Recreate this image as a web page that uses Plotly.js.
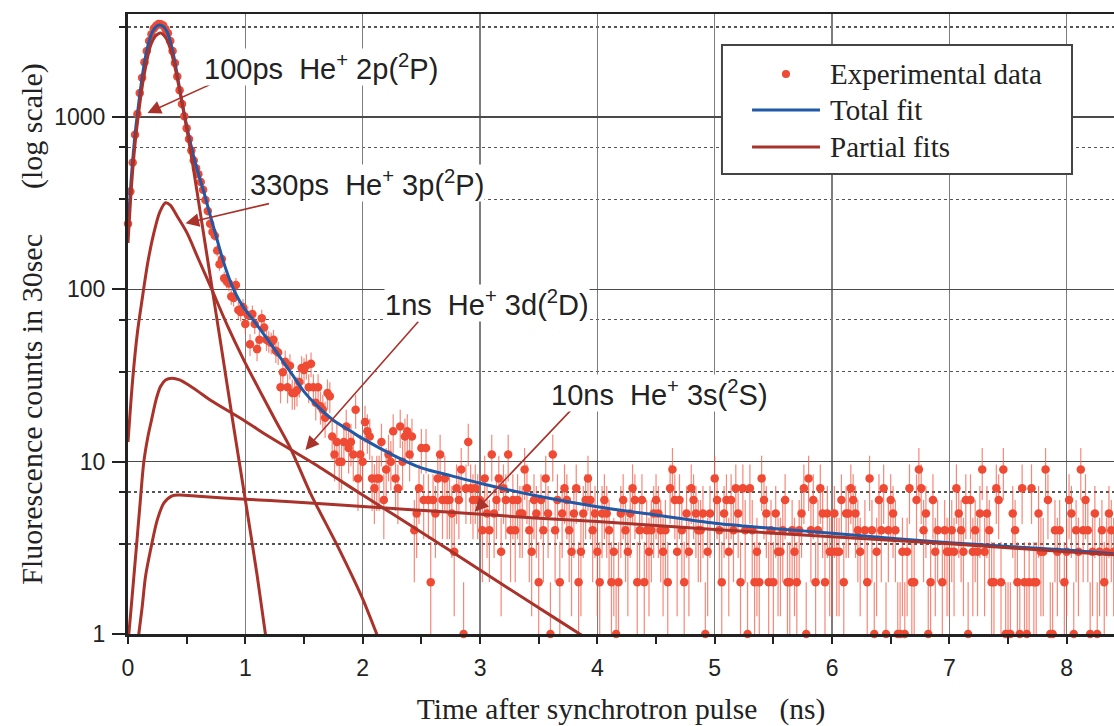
<!DOCTYPE html>
<html><head><meta charset="utf-8">
<script src="https://cdn.plot.ly/plotly-3.0.1.min.js"></script>
<style>html,body{margin:0;padding:0;background:#fff}#chart{width:1114px;height:726px}</style>
</head><body><div id="chart"></div>
<script>
// ---- data: fluorescence counts per 20 ps channel, starting at t = 0 ns ----
const channelStart = 0;      // ns
const channelWidth = 0.02;   // ns
const counts = [
 240, 370, 545, 790, 1040, 1380, 1690, 2080, 2420, 2760,
 3020, 3260, 3390, 3470, 3450, 3400, 3230, 3060, 2760, 2420,
 2060, 1720, 1430, 1190, 1010, 860, 745, 640, 560, 505,
 465, 420, 378, 330, 285, 240, 215, 205, 168, 140,
 150, 116, 112, 108, 91, 89, 106, 76, 74, 79,
 63, 71, 48, 72, 63, 45, 51, 68, 60, 51,
 50, 49, 51, 44, 43, 27, 33, 38, 27, 36,
 25, 25, 26, 29, 35, 34, 36, 27, 37, 27,
 22, 27, 21, 20, 18, 25, 24, 14, 11, 13,
 10, 10, 13, 16, 12, 13, 11, 20, 8, 11,
 10, 17, 15, 14, 8, 7, 8, 8, 13, 6,
 9, 11, 10, 15, 8, 7, 16, 10, 14, 15,
 11, 14, 4, 5, 7, 12, 6, 12, 6, 2,
 6, 5, 8, 11, 6, 8, 6, 6, 5, 3,
 7, 6, 9, 1, 7, 13, 7, 6, 7, 6,
 6, 4, 8, 5, 4, 11, 5, 6, 8, 3,
 7, 6, 11, 4, 6, 4, 6, 5, 5, 9,
 7, 4, 3, 6, 5, 2, 6, 4, 8, 5,
 1, 11, 4, 6, 2, 5, 7, 6, 4, 3,
 5, 7, 2, 3, 5, 6, 8, 6, 4, 5,
 3, 2, 5, 6, 5, 4, 2, 3, 1, 2,
 5, 6, 4, 3, 5, 7, 6, 2, 4, 6,
 2, 4, 3, 4, 5, 6, 5, 4, 3, 4,
 2, 7, 9, 6, 3, 6, 4, 2, 5, 3,
 7, 6, 5, 4, 4, 5, 1, 3, 5, 0,
 8, 6, 4, 2, 5, 6, 3, 6, 4, 7,
 5, 2, 7, 4, 1, 7, 4, 2, 3, 2,
 8, 6, 5, 2, 4, 2, 5, 3, 3, 4,
 6, 2, 2, 4, 3, 2, 4, 5, 7, 1,
 8, 4, 6, 2, 4, 7, 5, 2, 5, 3,
 3, 5, 3, 3, 6, 2, 5, 5, 7, 6,
 5, 4, 3, 0, 4, 2, 8, 4, 1, 3,
 6, 4, 7, 1, 4, 6, 5, 4, 1, 1,
 3, 1, 3, 7, 2, 2, 6, 9, 7, 4,
 5, 1, 2, 6, 3, 4, 0, 2, 4, 3,
 3, 4, 3, 7, 5, 4, 3, 6, 1, 6,
 3, 4, 3, 5, 9, 3, 5, 4, 2, 2,
 7, 6, 2, 9, 1, 1, 1, 5, 4, 2,
 1, 7, 2, 1, 2, 7, 2, 2, 5, 3,
 3, 9, 6, 1, 1, 4, 3, 4, 0, 2,
 3, 6, 5, 1, 4, 3, 9, 4, 6, 4,
 1, 3, 5, 1, 3, 4, 2, 3, 5, 4, 3
];

// ---- fitted curves ----
const totalFitX = [0.00,0.03,0.06,0.09,0.12,0.15,0.18,0.21,0.24,0.27,0.30,0.33,0.36,0.39,0.42,0.45,0.48,0.52,0.56,0.60,0.65,0.70,0.75,0.80,0.85,0.90,0.95,1.00,1.07,1.20,1.30,1.40,1.50,1.60,1.75,1.90,2.00,2.25,2.50,2.75,3.00,3.50,4.00,4.50,5.00,5.50,6.00,6.50,7.00,7.50,8.00,8.42];
const totalFitY = [230,460,790,1180,1690,2250,2760,3140,3350,3420,3360,3150,2760,2260,1750,1340,1040,770,590,470,360,270,205,155,122,100,86,76,66,50,40,32,25.5,21.5,17.4,15,13.6,11,9.2,8.3,7.5,6.3,5.47,4.9,4.39,4.1,3.84,3.6,3.39,3.22,3.07,2.92];

const fit100psX = [0.00,0.03,0.06,0.09,0.135,0.19,0.235,0.277,0.32,0.36,0.40,0.45,0.50,0.55,0.617,0.70,0.80,0.90,1.00,1.10,1.171,1.22];
const fit100psY = [186,400,700,1052,1718,2570,2950,3077,2900,2500,1950,1320,860,540,276,120,44,16,6,2.2,1,0.6];

const fit330psX = [0.00,0.04,0.08,0.12,0.17,0.22,0.27,0.32,0.36,0.42,0.504,0.60,0.703,0.85,0.986,1.12,1.256,1.384,1.555,1.80,2.00,2.12,2.20];
const fit330psY = [13,30,56,87,145,212,280,318,308,265,212,150,104,61,39,26,17.4,12,6.55,3.1,1.6,1,0.75];

const fit1nsX = [0.00,0.007,0.04,0.07,0.10,0.135,0.17,0.20,0.24,0.277,0.32,0.376,0.44,0.50,0.60,0.70,0.986,1.20,1.40,1.60,2.00,2.50,3.00,3.50,3.85,3.95];
const fit1nsY = [0.9,1,1.8,3.1,5.4,10,14,17.4,23,27.3,29.8,30.5,29.8,28.3,25.5,22.8,17.4,14,11.6,9.6,6.4,3.9,2.35,1.42,1,0.9];

const fit10nsX = [0.08,0.092,0.121,0.149,0.192,0.249,0.305,0.376,0.433,0.60,1.00,1.384,2.00,2.75,3.50,4.00,5.00,6.00,7.00,8.00,8.42];
const fit10nsY = [0.85,1,1.44,2.15,3.07,4.58,5.74,6.33,6.4,6.3,6.05,5.86,5.5,5.09,4.7,4.5,4.04,3.67,3.34,3.0,2.88];

// ---- axes ----
const xTickVals = [0,1,2,3,4,5,6,7,8];
const yTickVals = [1,10,100,1000];
const yTickText = ['1','10','100','1000'];
const yMinorVals = [3.333,6.667,33.33,66.67,333.3,666.7,3333];

const legendLabels = ['Experimental data','Total fit','Partial fits'];
const peakLabels = [
  '100ps\u00a0\u00a0He<sup>+</sup> 2p(<sup>2</sup>P)',
  '330ps\u00a0\u00a0He<sup>+</sup> 3p(<sup>2</sup>P)',
  '1ns\u00a0\u00a0He<sup>+</sup> 3d(<sup>2</sup>D)',
  '10ns\u00a0\u00a0He<sup>+</sup> 3s(<sup>2</sup>S)'
];

const DATA_COLOR = '#ee4a34';
const BLUE = '#1f59a8';
const RED = '#a9322a';
const SANS = 'Liberation Sans, Arial, sans-serif';
const SERIF = 'Liberation Serif, Times New Roman, serif';

const traces = [
  { type:'scatter', mode:'markers', name:legendLabels[0], x0:channelStart, dx:channelWidth, y:counts,
    marker:{size:8.5, color:'rgba(0,0,0,0)'},
    error_y:{type:'sqrt', visible:true, color:'rgba(242,90,70,0.72)', thickness:1.2, width:0},
    showlegend:false, hoverinfo:'skip' },
  { type:'scatter', mode:'markers', name:legendLabels[0], x0:channelStart, dx:channelWidth, y:counts,
    marker:{size:8.5, color:DATA_COLOR}, cliponaxis:false, showlegend:false },
  { type:'scatter', mode:'lines', name:legendLabels[1], x:totalFitX, y:totalFitY,
    line:{color:BLUE, width:3, shape:'spline', smoothing:0.8}, showlegend:false },
  { type:'scatter', mode:'lines', name:legendLabels[2], x:fit100psX, y:fit100psY,
    line:{color:RED, width:3, shape:'spline', smoothing:0.8}, showlegend:false },
  { type:'scatter', mode:'lines', name:legendLabels[2], x:fit330psX, y:fit330psY,
    line:{color:RED, width:3, shape:'spline', smoothing:0.8}, showlegend:false },
  { type:'scatter', mode:'lines', name:legendLabels[2], x:fit1nsX, y:fit1nsY,
    line:{color:RED, width:3, shape:'spline', smoothing:0.8}, showlegend:false },
  { type:'scatter', mode:'lines', name:legendLabels[2], x:fit10nsX, y:fit10nsY,
    line:{color:RED, width:3, shape:'spline', smoothing:0.8}, showlegend:false }
];

function arrow(x, y, ax, ay) {
  return { xref:'x', yref:'y', axref:'x', ayref:'y', x:x, y:Math.log10(y), ax:ax, ay:Math.log10(ay),
           text:'', showarrow:true, arrowhead:2, arrowsize:1.7, arrowwidth:1.6, arrowcolor:RED, standoff:0 };
}
function label(text, x, y) {
  return { xref:'x', yref:'y', x:x, y:Math.log10(y), xanchor:'left', yanchor:'middle', text:text,
           showarrow:false, bgcolor:'#ffffff', borderpad:0, font:{family:SANS, size:29, color:'#222'} };
}
function legendText(text, y) {
  return { xref:'paper', yref:'paper', x:0.7099, y:y, xanchor:'left', yanchor:'middle', text:text,
           showarrow:false, font:{family:SERIF, size:29, color:'#222'} };
}

const annotations = [
  arrow(0.166, 1056, 0.805, 1664),
  arrow(0.49, 242, 1.214, 316),
  arrow(1.512, 11.7, 2.486, 66.4),
  arrow(2.955, 5.13, 3.815, 21.3),
  label(peakLabels[0], 0.643, 1954),
  label(peakLabels[1], 1.029, 416),
  label(peakLabels[2], 2.179, 83),
  label(peakLabels[3], 3.596, 24.9),
  legendText(legendLabels[0], 0.9032),
  legendText(legendLabels[1], 0.8452),
  legendText(legendLabels[2], 0.7855)
];

const shapes = [
  { type:'rect', xref:'paper', yref:'paper', x0:0.6024, x1:0.9574, y0:0.7419, y1:0.95,
    line:{color:'#444', width:2}, fillcolor:'#ffffff', layer:'above' },
  { type:'circle', xref:'paper', yref:'paper', x0:0.6673-0.0041, x1:0.6673+0.0041, y0:0.9032-0.0065, y1:0.9032+0.0065,
    line:{width:0}, fillcolor:DATA_COLOR, layer:'above' },
  { type:'line', xref:'paper', yref:'paper', x0:0.6329, x1:0.7018, y0:0.8452, y1:0.8452,
    line:{color:BLUE, width:3}, layer:'above' },
  { type:'line', xref:'paper', yref:'paper', x0:0.6329, x1:0.7018, y0:0.7855, y1:0.7855,
    line:{color:RED, width:3}, layer:'above' }
];

const layout = {
  width:1114, height:726,
  margin:{l:128, r:0, t:14, b:92},
  paper_bgcolor:'#ffffff', plot_bgcolor:'#ffffff',
  showlegend:false,
  xaxis:{
    range:[0, 8.403], tickmode:'array', tickvals:xTickVals,
    ticks:'outside', ticklen:7, tickwidth:2, tickcolor:'#222', ticklabelstandoff:5,
    showline:true, linewidth:2.5, linecolor:'#222', mirror:true,
    showgrid:true, gridcolor:'#7d7d7d', gridwidth:1.5, zeroline:false,
    tickfont:{family:SANS, size:23, color:'#222'},
    minor:{dtick:0.5, ticks:'outside', ticklen:7, tickwidth:2, tickcolor:'#222', showgrid:false},
    title:{text:'Time after synchrotron pulse\u00a0\u00a0\u00a0(ns)', font:{family:SERIF, size:29.5, color:'#222'}, standoff:19}
  },
  xaxis2:{
    overlaying:'x', side:'top', anchor:'y', range:[0, 8.403], tickmode:'linear', tick0:0, dtick:0.5,
    ticks:'outside', ticklen:3, tickwidth:2, tickcolor:'#222', showticklabels:false,
    showline:false, showgrid:false, zeroline:false
  },
  yaxis:{
    type:'log', range:[0, 3.598], tickmode:'array', tickvals:yTickVals, ticktext:yTickText,
    ticks:'outside', ticklen:13, tickwidth:2, tickcolor:'#222', ticklabelstandoff:2,
    showline:true, linewidth:3, linecolor:'#222',
    showgrid:true, gridcolor:'#4a4a4a', gridwidth:1.4, zeroline:false,
    tickfont:{family:SANS, size:23, color:'#222'},
    minor:{tickmode:'array', tickvals:yMinorVals, ticks:'outside', ticklen:6, tickwidth:2, tickcolor:'#222',
           showgrid:true, gridcolor:'#555', gridwidth:1.2, griddash:'dot'},
    title:{text:'Fluorescence counts in 30sec\u00a0\u00a0\u00a0\u00a0\u00a0\u00a0(log scale)', font:{family:SERIF, size:30, color:'#222'}, standoff:3}
  },
  annotations:annotations,
  shapes:shapes
};

Plotly.newPlot('chart', traces, layout, {displayModeBar:false, staticPlot:true});
</script>
</body></html>
